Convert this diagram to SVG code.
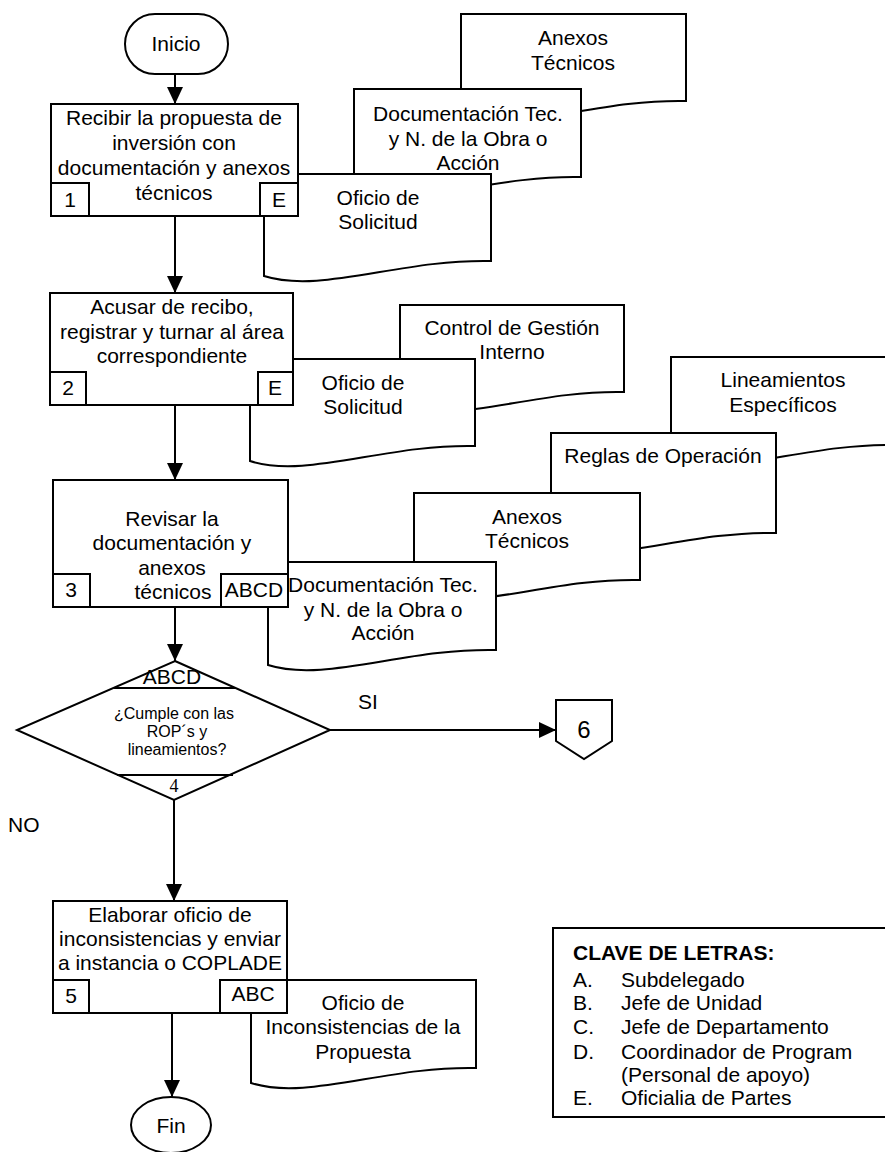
<svg xmlns="http://www.w3.org/2000/svg" width="885" height="1152" viewBox="0 0 885 1152">
<defs>
<style>
.s{fill:#fff;stroke:#000;stroke-width:2}
.t{font-family:"Liberation Sans",Arial,sans-serif;font-size:21px;fill:#000;text-anchor:middle}
.tl{font-family:"Liberation Sans",Arial,sans-serif;font-size:21px;fill:#000}
.q{font-family:"Liberation Sans",Arial,sans-serif;font-size:16px;fill:#000;text-anchor:middle}
.c{fill:none;stroke:#000;stroke-width:2}
</style>
<marker id="ah" viewBox="0 0 17 16" markerWidth="17" markerHeight="16" refX="17" refY="8" orient="auto" markerUnits="userSpaceOnUse"><path d="M0,0 L17,8 L0,16 z" fill="#000"/></marker>
</defs>
<rect width="885" height="1152" fill="#fff"/>

<g id="connectors">
<line class="c" x1="175" y1="74" x2="175" y2="104" marker-end="url(#ah)"/>
<line class="c" x1="175" y1="216" x2="175" y2="293" marker-end="url(#ah)"/>
<line class="c" x1="175" y1="405" x2="175" y2="480" marker-end="url(#ah)"/>
<line class="c" x1="175" y1="607" x2="175" y2="661" marker-end="url(#ah)"/>
<line class="c" x1="330" y1="730" x2="556" y2="730" marker-end="url(#ah)"/>
<line class="c" x1="174" y1="800" x2="174" y2="901" marker-end="url(#ah)"/>
<line class="c" x1="172" y1="1013" x2="172" y2="1097" marker-end="url(#ah)"/>
<text class="tl" x="358" y="709">SI</text>
<text class="tl" x="8" y="832">NO</text>
</g>

<g id="inicio">
<rect class="s" x="125" y="14" width="103" height="60" rx="30" ry="30"/>
<text class="t" x="176" y="51">Inicio</text>
</g>

<g id="docs1">
<path class="s" d="M461,14 H686 V101 C596,99 517,134 461,116 Z"/>
<text class="t" x="573" y="45">Anexos</text>
<text class="t" x="573" y="70">Técnicos</text>
<path class="s" d="M354,89 H581 V177 C490,175 411,210 354,192 Z"/>
<text class="t" x="468" y="121">Documentación Tec.</text>
<text class="t" x="468" y="146">y N. de la Obra o</text>
<text class="t" x="468" y="170">Acción</text>
<path class="s" d="M264,174 H491 V261 C400,259 321,294 264,276 Z"/>
<text class="t" x="378" y="205">Oficio de</text>
<text class="t" x="378" y="229">Solicitud</text>
</g>

<g id="step1">
<rect class="s" x="51" y="104" width="247" height="112"/>
<rect class="s" x="51" y="183" width="38" height="33"/>
<rect class="s" x="260" y="183" width="38" height="33"/>
<text class="t" x="174" y="125">Recibir la propuesta de</text>
<text class="t" x="174" y="150">inversión con</text>
<text class="t" x="174" y="175">documentación y anexos</text>
<text class="t" x="174" y="200">técnicos</text>
<text class="t" x="70" y="207">1</text>
<text class="t" x="279" y="207">E</text>
</g>

<g id="docs2">
<path class="s" d="M400,305 H624 V392 C534,390 456,425 400,407 Z"/>
<text class="t" x="512" y="335">Control de Gestión</text>
<text class="t" x="512" y="359">Interno</text>
<path class="s" d="M250,359 H475 V446 C385,444 306,479 250,461 Z"/>
<text class="t" x="363" y="390">Oficio de</text>
<text class="t" x="363" y="414">Solicitud</text>
</g>

<g id="step2">
<rect class="s" x="50" y="293" width="243" height="112"/>
<rect class="s" x="50" y="372" width="36" height="33"/>
<rect class="s" x="258" y="372" width="35" height="33"/>
<text class="t" x="172" y="314">Acusar de recibo,</text>
<text class="t" x="172" y="339">registrar y turnar al área</text>
<text class="t" x="172" y="363">correspondiente</text>
<text class="t" x="68" y="395">2</text>
<text class="t" x="275" y="395">E</text>
</g>

<g id="docs3">
<path class="s" d="M671,357 H896 V445 C806,443 727,478 671,460 Z"/>
<text class="t" x="783" y="387">Lineamientos</text>
<text class="t" x="783" y="412">Específicos</text>
<path class="s" d="M551,433 H776 V533 C686,531 607,566 551,548 Z"/>
<text class="t" x="663" y="463">Reglas de Operación</text>
<path class="s" d="M414,493 H640 V580 C550,578 470,613 414,595 Z"/>
<text class="t" x="527" y="524">Anexos</text>
<text class="t" x="527" y="548">Técnicos</text>
<path class="s" d="M268,562 H496 V650 C405,648 325,683 268,665 Z"/>
<text class="t" x="383" y="592">Documentación Tec.</text>
<text class="t" x="383" y="617">y N. de la Obra o</text>
<text class="t" x="383" y="640">Acción</text>
</g>

<g id="step3">
<rect class="s" x="53" y="480" width="235" height="127"/>
<rect class="s" x="53" y="574" width="37" height="33"/>
<rect class="s" x="221" y="574" width="67" height="33"/>
<text class="t" x="172" y="526">Revisar la</text>
<text class="t" x="172" y="550">documentación y</text>
<text class="t" x="172" y="575">anexos</text>
<text class="t" x="173" y="599">técnicos</text>
<text class="t" x="71" y="597">3</text>
<text class="t" x="254" y="597">ABCD</text>
</g>

<g id="decision">
<polygon class="s" points="175,661 330,730 174,800 17,730"/>
<line class="c" x1="114" y1="688" x2="235" y2="688"/>
<line class="c" x1="117" y1="775" x2="233" y2="775"/>
<text class="t" x="172" y="684">ABCD</text>
<text class="q" x="174" y="719">¿Cumple con las</text>
<text class="q" x="177" y="737">ROP´s y</text>
<text class="q" x="177" y="755">lineamientos?</text>
<text x="174" y="792" font-family="'Liberation Serif',serif" font-size="18" text-anchor="middle">4</text>
</g>

<g id="offpage6">
<polygon class="s" points="556,700 612,700 612,741 584,759 556,741"/>
<text x="584" y="738" font-family="'Liberation Sans',Arial,sans-serif" font-size="24" text-anchor="middle">6</text>
</g>

<g id="doc5">
<path class="s" d="M251,980 H476 V1068 C386,1066 307,1101 251,1083 Z"/>
<text class="t" x="363" y="1010">Oficio de</text>
<text class="t" x="363" y="1034">Inconsistencias de la</text>
<text class="t" x="363" y="1059">Propuesta</text>
</g>

<g id="step5">
<rect class="s" x="53" y="901" width="234" height="112"/>
<rect class="s" x="53" y="980" width="36" height="33"/>
<rect class="s" x="220" y="980" width="67" height="33"/>
<text class="t" x="170" y="922">Elaborar oficio de</text>
<text class="t" x="170" y="946">inconsistencias y enviar</text>
<text class="t" x="170" y="970">a instancia o COPLADE</text>
<text class="t" x="71" y="1003">5</text>
<text class="t" x="253" y="1001">ABC</text>
</g>

<g id="fin">
<ellipse class="s" cx="171" cy="1125" rx="40" ry="28"/>
<text class="t" x="171" y="1133">Fin</text>
</g>

<g id="legend">
<rect class="s" x="553" y="928" width="345" height="189"/>
<text class="tl" x="573" y="960" font-weight="bold">CLAVE DE LETRAS:</text>
<text class="tl" x="573" y="987">A.</text><text class="tl" x="621" y="987">Subdelegado</text>
<text class="tl" x="573" y="1010">B.</text><text class="tl" x="621" y="1010">Jefe de Unidad</text>
<text class="tl" x="573" y="1034">C.</text><text class="tl" x="621" y="1034">Jefe de Departamento</text>
<text class="tl" x="573" y="1059">D.</text><text class="tl" x="621" y="1059">Coordinador de Program</text>
<text class="tl" x="621" y="1082">(Personal de apoyo)</text>
<text class="tl" x="573" y="1105">E.</text><text class="tl" x="621" y="1105">Oficialia de Partes</text>
</g>
</svg>
